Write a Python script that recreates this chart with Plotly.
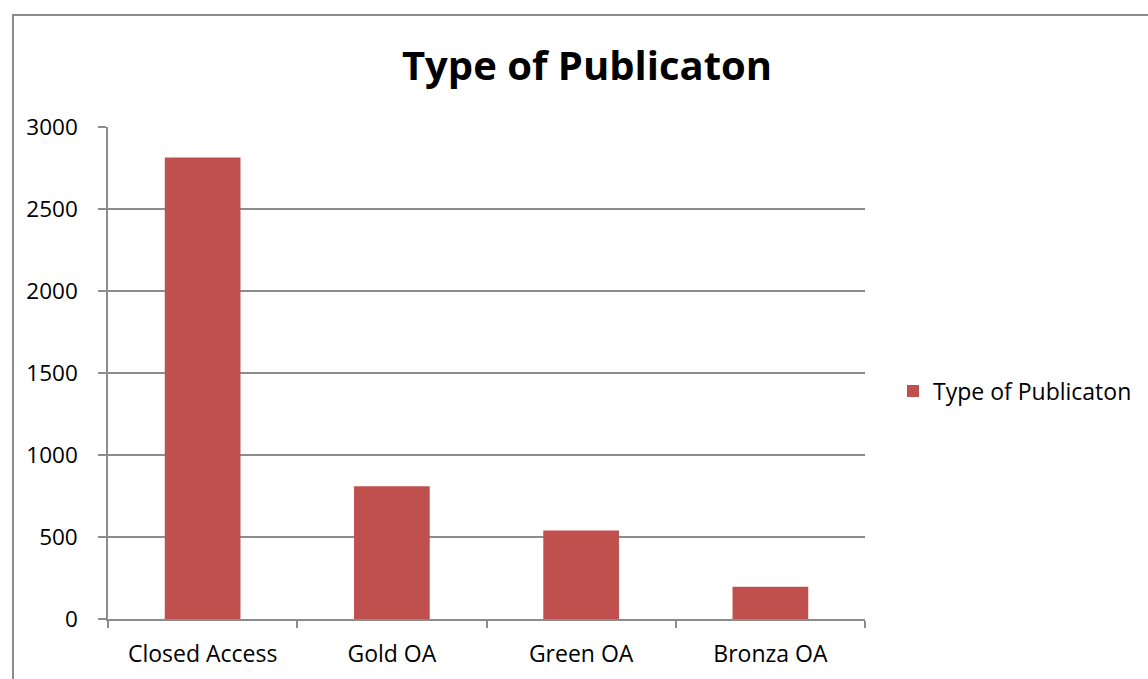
import plotly.graph_objects as go

# Publication counts by access type
categories = ["Closed Access", "Gold OA", "Green OA", "Bronza OA"]
counts = [2814, 810, 540, 197]
series_name = "Type of Publicaton"
y_ticks = [0, 500, 1000, 1500, 2000, 2500, 3000]

FONT = "Open Sans"
GRAY = "#8c8c8c"
BAR = "#C0504D"

fig = go.Figure(
    go.Bar(
        x=categories,
        y=counts,
        name=series_name,
        marker=dict(color=BAR, line=dict(width=0)),
        showlegend=True,
    )
)

W, H = 1148, 679
L, R, T, B = 108, 283, 127, 60
pw, ph = W - L - R, H - T - B

def px_x(p):
    return (p - L) / pw

def px_y(p):
    return (H - B - p) / ph

fig.update_layout(
    width=W,
    height=H,
    margin=dict(l=L, r=R, t=T, b=B, autoexpand=False),
    paper_bgcolor="white",
    plot_bgcolor="white",
    bargap=0.6,
    font=dict(family=FONT, size=23, color="black"),
    title=dict(
        text="<b>Type of Publicaton</b>",
        font=dict(family=FONT, size=40, color="black"),
        x=587 / W,
        xanchor="center",
        y=1 - 66 / H,
        yanchor="middle",
    ),
    legend=dict(
        x=px_x(893),
        xanchor="left",
        y=px_y(391),
        yanchor="middle",
        font=dict(family=FONT, size=23, color="black"),
        itemwidth=30,
    ),
    xaxis=dict(
        showline=True,
        linecolor=GRAY,
        linewidth=1.5,
        ticks="outside",
        tickson="boundaries",
        ticklen=7,
        tickcolor=GRAY,
        tickwidth=1.5,
        showgrid=False,
        ticklabelstandoff=14,
        tickfont=dict(family=FONT, size=23, color="black"),
    ),
    yaxis=dict(
        range=[0, 3000],
        tickvals=y_ticks,
        showline=True,
        linecolor=GRAY,
        linewidth=1.5,
        ticks="outside",
        ticklen=8,
        tickcolor=GRAY,
        tickwidth=1.5,
        showgrid=True,
        gridcolor=GRAY,
        gridwidth=1.5,
        zeroline=False,
        ticklabelstandoff=16,
        tickfont=dict(family=FONT, size=22.5, color="black"),
    ),
    shapes=[
        dict(
            type="rect",
            xref="paper",
            yref="paper",
            x0=px_x(13),
            x1=px_x(W + 10),
            y0=px_y(H + 10),
            y1=px_y(15),
            line=dict(color=GRAY, width=2),
            fillcolor="rgba(0,0,0,0)",
            layer="below",
        )
    ],
)

fig.write_html("out.html")
